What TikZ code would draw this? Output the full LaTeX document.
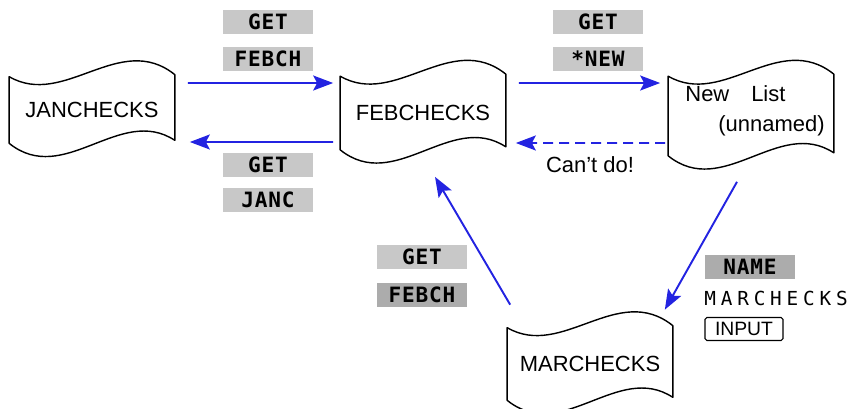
\documentclass[tikz,border=0pt]{standalone}
\usepackage{fontspec}
\setmainfont{Liberation Sans}
\newfontfamily\keyfont[LetterSpace=4]{DejaVu Sans Mono}
\newfontfamily\lcdfont[LetterSpace=25]{DejaVu Sans Mono}
\usepackage{tikz}
\usetikzlibrary{arrows.meta, positioning, calc}

\definecolor{arrblue}{RGB}{35,35,225}
\definecolor{keylight}{RGB}{200,200,200}
\definecolor{keydark}{RGB}{172,172,172}

% wavy "file" outline drawn round a named node
\newcommand{\wavefile}[1]{%
  \draw[line width=0.8pt, line join=round]
    (#1.north west) .. controls +(55,32) and +(-55,-44) .. ($(#1.north east)+(0,-2)$)
    -- ($(#1.south east)+(0,-3)$)
    .. controls +(-55,-36) and +(55,44) .. (#1.south west) -- cycle;}

\begin{document}
\begin{tikzpicture}[
  x=0.02cm, y=-0.02cm,
  node distance=0.24cm and 0.4cm,
  file/.style={rectangle, minimum width=3.3cm, minimum height=1.46cm, inner sep=0pt, align=center, font=\fontsize{12.5}{15}\selectfont},
  key/.style={rectangle, fill=keylight, minimum width=1.8cm, minimum height=0.48cm, inner sep=0pt, font=\keyfont\bfseries\fontsize{12}{14}\selectfont},
  keyd/.style={key, fill=keydark},
  arr/.style={-{Stealth[length=4mm, width=3mm, inset=0.8mm]}, line width=1.1pt, arrblue},
]
  \useasboundingbox (0,0) rectangle (853,409);

  % Files
  \node[file, minimum height=1.32cm] (jan) at (92,110) {JANCHECKS};
  \node[file] (feb) at (423,113) {FEBCHECKS};
  \node[file, minimum height=1.58cm] (new) at (751,116) {};
  \node[align=left, inner sep=0pt, font=\fontsize{12.5}{15}\selectfont] (newtext) at (755,111) {New\quad List\\[2pt]\hspace*{0.66cm}(unnamed)};
  \node[file, minimum height=1.44cm] (mar) at (590,364) {MARCHECKS};
  \wavefile{jan}
  \wavefile{feb}
  \wavefile{new}
  \wavefile{mar}

  % Arrows
  \draw[arr, shorten <=0.26cm, shorten >=0.14cm] ([yshift=0.54cm]jan.east) -- ([yshift=0.6cm]feb.west);
  \draw[arr, shorten <=0.14cm, shorten >=0.3cm] ([yshift=-0.58cm]feb.west) -- ([yshift=-0.64cm]jan.east);
  \draw[arr, shorten <=0.26cm, shorten >=0.16cm] ([yshift=0.6cm]feb.east) -- ([yshift=0.66cm]new.west);
  \draw[arr, dash pattern=on 0.2cm off 0.12cm, shorten <=0.06cm, shorten >=0.2cm] ([yshift=-0.54cm]new.west) -- ([yshift=-0.6cm]feb.east);
  \draw[arr] ($(new.south)+(-14,26)$) -- ($(mar.north east)+(-8,-18)$);
  \draw[arr] ($(mar.north west)+(3,-23)$) -- ($(feb.south)+(12,27)$);

  % Keystrokes
  \node[key] (febch1) at (268,59) {FEBCH};
  \node[key, above=of febch1] (get1) {GET};
  \node[key] (get2) at (268,165) {GET};
  \node[key, below=0.2cm of get2] (janc) {JANC};
  \node[key] (starnew) at (598,59) {*NEW};
  \node[key, above=of starnew] (get3) {GET};
  \node[keyd] (febch2) at (422,295) {FEBCH};
  \node[key, above=0.26cm of febch2] (get4) {GET};
  \node[keyd] (name) at (750,267) {NAME};
  \node[anchor=west, inner sep=0pt, font=\lcdfont\fontsize{11}{13}\selectfont] (marname) at (704,298) {MARCHECKS};
  \node[draw, line width=0.6pt, rounded corners=1pt, minimum width=1.56cm, minimum height=0.46cm, inner sep=0pt, font=\fontsize{11}{13}\selectfont] (input) at (744,329) {INPUT};

  \node[font=\fontsize{12.5}{15}\selectfont] (cant) at (590,165) {Can't do!};

\end{tikzpicture}
\end{document}
